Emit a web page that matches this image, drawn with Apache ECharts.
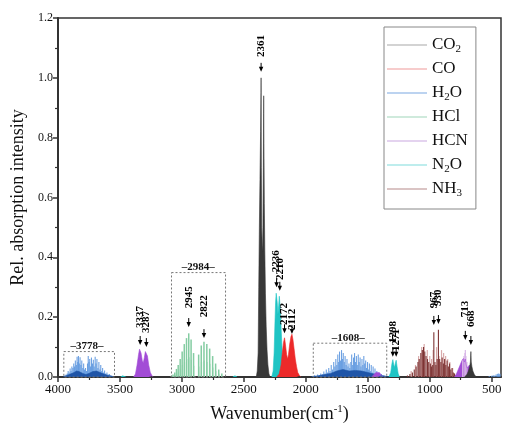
<!DOCTYPE html>
<html><head><meta charset="utf-8">
<script src="https://cdn.jsdelivr.net/npm/echarts@6/dist/echarts.min.js"></script>
<style>html,body{margin:0;padding:0;background:#fff}#c{width:505px;height:432px}</style>
</head><body><div id="c"></div>
<script>
// ---------- axis ticks ----------
const xTicks = [4000, 3500, 3000, 2500, 2000, 1500, 1000, 500];
const xMinorTicks = [3750, 3250, 2750, 2250, 1750, 1250, 750];

// ---------- CO2 ----------
const co2Wn  = [2400, 2392, 2385, 2380, 2375, 2370, 2365, 2362, 2361, 2359, 2356, 2352, 2349, 2346, 2343, 2341, 2340, 2338, 2335, 2331, 2326, 2320, 2313, 2306, 2298, 2290];
const co2Int = [0, 0.02, 0.08, 0.3, 0.5, 0.66, 0.82, 0.95, 1.0, 0.7, 0.5, 0.44, 0.42, 0.5, 0.7, 0.88, 0.94, 0.78, 0.58, 0.42, 0.28, 0.17, 0.09, 0.04, 0.012, 0];
const co2bWn  = [720, 700, 688, 678, 672, 668, 665, 660, 652, 640, 625];
const co2bInt = [0, 0.008, 0.02, 0.035, 0.05, 0.085, 0.05, 0.035, 0.02, 0.008, 0];

// ---------- CO ----------
const coWn  = [2235, 2215, 2200, 2190, 2180, 2172, 2165, 2155, 2147, 2140, 2130, 2120, 2112, 2104, 2095, 2085, 2075, 2065, 2050, 2040];
const coInt = [0, 0.01, 0.04, 0.08, 0.115, 0.131, 0.11, 0.075, 0.06, 0.075, 0.11, 0.135, 0.143, 0.125, 0.095, 0.06, 0.035, 0.015, 0.004, 0];

// ---------- N2O ----------
const n2oWn  = [2275, 2264, 2256, 2250, 2244, 2239, 2236, 2231, 2225, 2219, 2214, 2210, 2205, 2198, 2190, 2182, 2172, 2165];
const n2oInt = [0, 0.02, 0.08, 0.17, 0.25, 0.28, 0.285, 0.25, 0.21, 0.24, 0.27, 0.275, 0.22, 0.15, 0.08, 0.03, 0.005, 0];
const n2obWn  = [1330, 1315, 1305, 1298, 1290, 1284, 1278, 1271, 1264, 1255, 1245];
const n2obInt = [0, 0.015, 0.045, 0.058, 0.04, 0.032, 0.045, 0.056, 0.035, 0.012, 0];
const n2ocWn  = [3495, 3485, 3478, 3470, 3462, 3452];
const n2ocInt = [0, 0.006, 0.004, 0.007, 0.004, 0];
const n2odWn  = [2590, 2580, 2572, 2565, 2555];
const n2odInt = [0, 0.006, 0.004, 0.005, 0];

// ---------- HCN ----------
const hcnWn  = [3390, 3375, 3362, 3350, 3342, 3337, 3330, 3320, 3312, 3303, 3295, 3287, 3278, 3268, 3255, 3240, 3230];
const hcnInt = [0, 0.01, 0.04, 0.075, 0.093, 0.097, 0.08, 0.055, 0.047, 0.065, 0.085, 0.09, 0.07, 0.04, 0.015, 0.003, 0];
const hcnbWn  = [800, 785, 770, 755, 740, 728, 720, 713, 706, 698, 690, 680, 672, 660, 650];
const hcnbInt = [0, 0.01, 0.025, 0.04, 0.055, 0.062, 0.05, 0.06, 0.04, 0.03, 0.035, 0.04, 0.03, 0.01, 0];
const hcncWn  = [1470, 1450, 1435, 1420, 1405, 1390, 1375];
const hcncInt = [0, 0.008, 0.015, 0.012, 0.014, 0.006, 0];
const hcnStickWn  = [735, 724, 716, 713, 708, 700];
const hcnStickInt = [0.06, 0.07, 0.08, 0.09, 0.07, 0.05];

// ---------- H2O ----------
const h2oAWn  = [3945, 3935, 3925, 3918, 3910, 3902, 3895, 3888, 3880, 3873, 3866, 3860, 3852, 3846, 3840, 3835, 3828, 3822, 3815, 3808, 3800, 3793, 3786, 3778, 3770, 3762, 3756, 3750, 3744, 3737, 3730, 3722, 3715, 3708, 3700, 3693, 3686, 3678, 3670, 3662, 3655, 3647, 3640, 3632, 3624, 3615, 3605, 3595, 3585, 3575, 3565];
const h2oAInt = [0.005, 0.008, 0.012, 0.02, 0.015, 0.028, 0.02, 0.035, 0.03, 0.045, 0.035, 0.055, 0.04, 0.068, 0.05, 0.07, 0.045, 0.066, 0.04, 0.055, 0.03, 0.045, 0.025, 0.03, 0.02, 0.045, 0.07, 0.05, 0.06, 0.035, 0.065, 0.045, 0.058, 0.035, 0.068, 0.045, 0.06, 0.03, 0.05, 0.025, 0.04, 0.02, 0.03, 0.015, 0.022, 0.012, 0.015, 0.008, 0.01, 0.005, 0.004];
const h2oABaseWn  = [3960, 3930, 3900, 3870, 3850, 3830, 3800, 3775, 3750, 3720, 3690, 3660, 3630, 3600, 3570, 3550];
const h2oABaseInt = [0, 0.005, 0.01, 0.015, 0.02, 0.018, 0.012, 0.008, 0.012, 0.018, 0.02, 0.015, 0.01, 0.006, 0.003, 0];
const h2oBWn  = [1945, 1930, 1918, 1905, 1892, 1880, 1868, 1855, 1845, 1835, 1825, 1815, 1805, 1795, 1785, 1775, 1766, 1758, 1750, 1742, 1735, 1728, 1720, 1712, 1705, 1698, 1690, 1683, 1675, 1668, 1660, 1652, 1645, 1637, 1630, 1622, 1615, 1607, 1600, 1592, 1585, 1577, 1570, 1562, 1555, 1547, 1540, 1532, 1525, 1517, 1510, 1502, 1495, 1487, 1480, 1472, 1465, 1457, 1450, 1442, 1435, 1427, 1418, 1410, 1400, 1390, 1380, 1370, 1358];
const h2oBInt = [0.003, 0.006, 0.004, 0.008, 0.006, 0.012, 0.01, 0.018, 0.012, 0.025, 0.015, 0.03, 0.02, 0.04, 0.025, 0.05, 0.035, 0.06, 0.04, 0.075, 0.05, 0.085, 0.055, 0.09, 0.06, 0.08, 0.05, 0.07, 0.04, 0.06, 0.035, 0.045, 0.03, 0.05, 0.075, 0.04, 0.065, 0.08, 0.05, 0.07, 0.04, 0.075, 0.05, 0.065, 0.035, 0.06, 0.04, 0.07, 0.045, 0.055, 0.03, 0.05, 0.025, 0.045, 0.02, 0.04, 0.015, 0.035, 0.012, 0.028, 0.01, 0.02, 0.008, 0.015, 0.006, 0.01, 0.004, 0.006, 0.003];
const h2oBBaseWn  = [1960, 1900, 1850, 1800, 1750, 1700, 1650, 1600, 1550, 1500, 1450, 1400, 1350, 1330];
const h2oBBaseInt = [0, 0.004, 0.008, 0.012, 0.02, 0.025, 0.02, 0.022, 0.02, 0.015, 0.01, 0.006, 0.002, 0];
const h2oCWn  = [520, 500, 488, 476, 465, 455, 447, 440, 433];
const h2oCInt = [0.003, 0.004, 0.006, 0.005, 0.008, 0.01, 0.012, 0.009, 0.011];

// ---------- HCl ----------
const hclWn  = [3085, 3072, 3058, 3044, 3030, 3014, 2998, 2981, 2963, 2945, 2926, 2906, 2865, 2844, 2822, 2799, 2776, 2752, 2728, 2703, 2678];
const hclInt = [0.004, 0.008, 0.015, 0.027, 0.04, 0.06, 0.085, 0.11, 0.13, 0.146, 0.125, 0.08, 0.075, 0.105, 0.118, 0.11, 0.095, 0.07, 0.045, 0.025, 0.012];
const hclIsoWn  = [3083, 3070, 3056, 3042, 3028, 3012, 2996, 2979, 2961, 2943, 2924, 2904, 2863, 2842, 2820, 2797, 2774, 2750, 2726, 2701];
const hclIsoInt = [0.002, 0.004, 0.007, 0.012, 0.018, 0.028, 0.04, 0.05, 0.06, 0.066, 0.058, 0.038, 0.035, 0.05, 0.055, 0.05, 0.044, 0.032, 0.02, 0.011];

// ---------- NH3 ----------
const nh3DarkWn  = [1180, 1160, 1140, 1125, 1110, 1095, 1085, 1072, 1060, 1050, 1040, 1030, 1018, 1008, 995, 985, 976, 967, 958, 950, 940, 930, 920, 910, 900, 890, 880, 870, 860, 850, 840, 830, 820, 810, 800, 790];
const nh3DarkInt = [0.005, 0.01, 0.015, 0.025, 0.035, 0.05, 0.06, 0.08, 0.09, 0.1, 0.085, 0.07, 0.06, 0.05, 0.045, 0.035, 0.04, 0.15, 0.05, 0.04, 0.06, 0.158, 0.06, 0.05, 0.065, 0.045, 0.06, 0.04, 0.055, 0.035, 0.045, 0.025, 0.03, 0.015, 0.012, 0.006];
const nh3PaleWn  = [1150, 1115, 1090, 1065, 1045, 1020, 1000, 985, 972, 945, 925, 905, 888, 872, 855, 838, 815];
const nh3PaleInt = [0.02, 0.04, 0.07, 0.1, 0.11, 0.09, 0.07, 0.06, 0.09, 0.1, 0.07, 0.09, 0.08, 0.07, 0.06, 0.05, 0.03];
const nh3BWn  = [1720, 1700, 1680, 1660, 1640, 1620, 1600, 1580, 1560, 1540, 1520, 1500];
const nh3BInt = [0.006, 0.01, 0.015, 0.02, 0.018, 0.015, 0.02, 0.015, 0.012, 0.01, 0.008, 0.004];

// ---------- annotations ----------
const annWn   = [2361, 3337, 3287, 2945, 2822, 2236, 2210, 2172, 2112, 1298, 1271, 967, 930, 713, 668];
const annTip  = [1.02, 0.107, 0.10, 0.167, 0.13, 0.30, 0.288, 0.146, 0.144, 0.068, 0.068, 0.174, 0.177, 0.124, 0.107];
const annText = [1.07, 0.164, 0.147, 0.23, 0.20, 0.35, 0.324, 0.174, 0.157, 0.114, 0.087, 0.23, 0.237, 0.20, 0.167];
const annLabels = ['2361', '3337', '3287', '2945', '2822', '2236', '2210', '2172', '2112', '1298', '1271', '967', '930', '713', '668'];

const boxLeft  = [3953, 3084, 1940];
const boxRight = [3544, 2648, 1347];
const boxTop   = [0.085, 0.349, 0.113];
const boxLabelX = [3766, 2869, 1657];
const boxLabels = ['–3778–', '–2984–', '–1608–'];

// ---------- helpers ----------
const FONT = 'Liberation Serif';
const zip = (a, b) => a.map((v, i) => [v, b[i]]);

function areaSeries(name, wn, val, color, z) {
  return {
    type: 'line', name: name, data: zip(wn, val), symbol: 'none', showSymbol: false,
    lineStyle: { color: color, width: 0.6 }, itemStyle: { color: color },
    areaStyle: { color: color, opacity: 1 }, z: z, silent: true, clip: true
  };
}
function stickSeries(name, wn, val, color, width, opacity, z) {
  return {
    type: 'custom', name: name, data: zip(wn, val), z: z, silent: true, clip: true,
    encode: { x: 0, y: 1 }, itemStyle: { color: color },
    renderItem: function (params, api) {
      const x = api.value(0), y = api.value(1);
      const p0 = api.coord([x, 0]), p1 = api.coord([x, y]);
      return { type: 'line', shape: { x1: p0[0], y1: p0[1], x2: p1[0], y2: p1[1] },
        style: { stroke: color, lineWidth: width, opacity: opacity } };
    }
  };
}

const series = [
  stickSeries('HCl', hclIsoWn, hclIsoInt, '#b5e2c8', 1.3, 1, 2),
  stickSeries('HCl', hclWn, hclInt, '#84cca2', 1.5, 1, 3),
  stickSeries('H2O', h2oAWn, h2oAInt, '#5d97df', 1.1, 0.9, 3),
  stickSeries('H2O', h2oBWn, h2oBInt, '#5d97df', 1.1, 0.9, 3),
  stickSeries('H2O', h2oCWn, h2oCInt, '#5d97df', 1.1, 0.9, 3),
  areaSeries('H2O', h2oABaseWn, h2oABaseInt, '#1f55a8', 4),
  areaSeries('H2O', h2oBBaseWn, h2oBBaseInt, '#1f55a8', 4),
  stickSeries('NH3', nh3PaleWn, nh3PaleInt, '#d9aaaa', 1.2, 1, 3),
  stickSeries('NH3', nh3DarkWn, nh3DarkInt, '#7e3434', 1.1, 1, 4),
  stickSeries('NH3', nh3BWn, nh3BInt, '#7e3434', 1.1, 1, 2),
  areaSeries('HCN', hcnWn, hcnInt, '#a24cd6', 5),
  areaSeries('HCN', hcnbWn, hcnbInt, '#a24cd6', 5),
  areaSeries('HCN', hcncWn, hcncInt, '#a24cd6', 5),
  stickSeries('HCN', hcnStickWn, hcnStickInt, '#d6b3e6', 1.1, 1, 5),
  areaSeries('N2O', n2oWn, n2oInt, '#1fc4c4', 5),
  areaSeries('N2O', n2obWn, n2obInt, '#1fc4c4', 5),
  areaSeries('N2O', n2ocWn, n2ocInt, '#1fc4c4', 5),
  areaSeries('N2O', n2odWn, n2odInt, '#1fc4c4', 5),
  areaSeries('CO', coWn, coInt, '#ec2a2a', 6),
  areaSeries('CO2', co2Wn, co2Int, '#383838', 6),
  areaSeries('CO2', co2bWn, co2bInt, '#383838', 6),
  {
    type: 'custom', name: 'boxes', z: 8, silent: true,
    data: boxLeft.map((v, i) => [v, boxRight[i], boxTop[i], boxLabelX[i]]),
    encode: { x: [0, 1, 3], y: 2 },
    renderItem: function (params, api) {
      const a = api.coord([api.value(0), api.value(2)]);
      const b = api.coord([api.value(1), 0]);
      const c = api.coord([api.value(3), api.value(2)]);
      return { type: 'group', children: [
        { type: 'rect', shape: { x: a[0], y: a[1], width: b[0] - a[0], height: b[1] - a[1] },
          style: { fill: 'none', stroke: '#777', lineWidth: 1, lineDash: [2, 2] } },
        { type: 'text', x: c[0], y: a[1] - 5,
          style: { text: boxLabels[params.dataIndex], font: 'bold 11px "' + FONT + '"', fill: '#111',
                   textAlign: 'center', textVerticalAlign: 'middle', align: 'center', verticalAlign: 'middle' } }
      ] };
    }
  },
  {
    type: 'custom', name: 'ann', z: 9, silent: true,
    data: annWn.map((v, i) => [v, annTip[i], annText[i]]),
    encode: { x: 0, y: [1, 2] },
    renderItem: function (params, api) {
      const p = api.coord([api.value(0), api.value(1)]);
      const t = api.coord([api.value(0), api.value(2)]);
      return { type: 'group', children: [
        { type: 'line', shape: { x1: p[0], y1: p[1] - 9, x2: p[0], y2: p[1] - 4 }, style: { stroke: '#000', lineWidth: 1 } },
        { type: 'polygon', shape: { points: [[p[0] - 2.2, p[1] - 5], [p[0] + 2.2, p[1] - 5], [p[0], p[1]]] }, style: { fill: '#000' } },
        { type: 'text', x: t[0], y: t[1], rotation: Math.PI / 2,
          style: { text: annLabels[params.dataIndex], font: 'bold 11px "' + FONT + '"', fill: '#000',
                   textAlign: 'left', textVerticalAlign: 'middle', align: 'left', verticalAlign: 'middle' } }
      ] };
    }
  }
];

const legendNames = ['CO2', 'CO', 'H2O', 'HCl', 'HCN', 'N2O', 'NH3'];
const legendColors = ['#a8a8a8', '#f09a9a', '#7ba8e2', '#9fd6b9', '#caa7e0', '#7fdcdc', '#b58a8a'];
const legendRich = { CO2: 'CO{s|2}', CO: 'CO', H2O: 'H{s|2}O', HCl: 'HCl', HCN: 'HCN', N2O: 'N{s|2}O', NH3: 'NH{s|3}' };

const chart = echarts.init(document.getElementById('c'), null, { renderer: 'canvas' });
chart.setOption({
  animation: false,
  backgroundColor: '#fff',
  grid: { left: 58, right: 4, top: 18, bottom: 55, show: true, borderColor: '#333', borderWidth: 1.5, backgroundColor: 'transparent' },
  legend: {
    orient: 'vertical', left: 384, top: 27, padding: [8, 8, 10, 3], itemGap: 4,
    itemWidth: 40, itemHeight: 1.2, icon: 'rect',
    borderColor: '#888', borderWidth: 1, backgroundColor: '#fff',
    data: legendNames.map((n, i) => ({ name: n, icon: 'rect', itemStyle: { color: legendColors[i] }, lineStyle: { color: legendColors[i] } })),
    formatter: n => legendRich[n],
    selectedMode: false,
    textStyle: { fontFamily: FONT, fontSize: 17, color: '#111', lineHeight: 20,
      rich: { s: { fontFamily: FONT, fontSize: 11, lineHeight: 11, verticalAlign: 'bottom', color: '#111' } } }
  },
  xAxis: [{
    type: 'value', inverse: true, min: 425, max: 4000,
    name: 'Wavenumber(cm{p|-1})', nameLocation: 'middle', nameGap: 27,
    nameTextStyle: { fontFamily: FONT, fontSize: 18, color: '#111', lineHeight: 20,
      rich: { p: { fontFamily: FONT, fontSize: 11, lineHeight: 11, verticalAlign: 'top', color: '#111' } } },
    axisLine: { lineStyle: { color: '#333', width: 2 } },
    axisTick: { length: 5, lineStyle: { color: '#333', width: 1.5 }, customValues: xTicks },
    axisLabel: { fontFamily: FONT, fontSize: 13, color: '#111', margin: 6, customValues: xTicks, formatter: v => String(v) },
    splitLine: { show: false }
  }, {
    type: 'value', inverse: true, min: 425, max: 4000, position: 'bottom',
    axisLine: { show: false },
    axisTick: { length: 3, lineStyle: { color: '#333', width: 1.2 }, customValues: xMinorTicks },
    axisLabel: { show: false }, splitLine: { show: false }
  }],
  yAxis: {
    type: 'value', min: 0, max: 1.2, interval: 0.2,
    name: 'Rel. absorption intensity', nameLocation: 'middle', nameGap: 27,
    nameTextStyle: { fontFamily: FONT, fontSize: 18, color: '#111' },
    axisLine: { show: true, lineStyle: { color: '#333', width: 2 } },
    axisTick: { length: 5, lineStyle: { color: '#333', width: 1.5 } },
    minorTick: { show: true, splitNumber: 2, length: 3, lineStyle: { color: '#333', width: 1.2 } },
    axisLabel: { fontFamily: FONT, fontSize: 12, color: '#111', margin: 5, formatter: v => v.toFixed(1) },
    splitLine: { show: false }
  },
  series: series
});
</script></body></html>
